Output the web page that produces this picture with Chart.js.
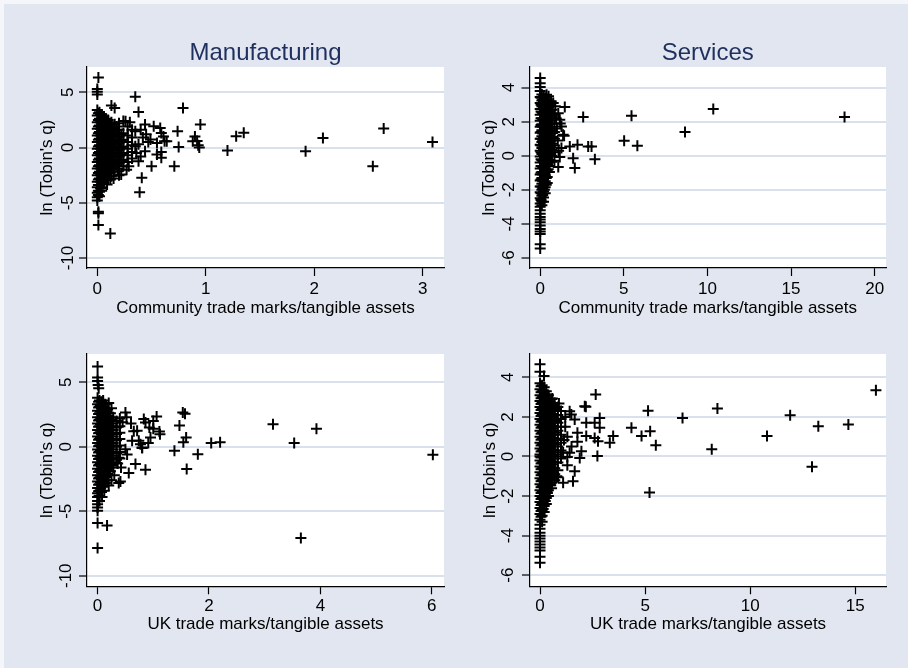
<!DOCTYPE html>
<html>
<head>
<meta charset="utf-8">
<script src="https://cdn.jsdelivr.net/npm/chart.js@4.4.1/dist/chart.umd.min.js"></script>
<style>
  html, body { margin: 0; padding: 0; background: #F4F6FA; width: 908px; height: 668px; overflow: hidden; }
  #frame { position: absolute; left: 4px; top: 4px; width: 904px; height: 664px; background: #E1E6F0; }
  canvas { position: absolute; }
</style>
</head>
<body>
<div id="frame"></div>
<canvas id="p1" width="454" height="334" style="left:0;top:0"></canvas>
<canvas id="p2" width="454" height="334" style="left:454px;top:0"></canvas>
<canvas id="p3" width="454" height="334" style="left:0;top:334px"></canvas>
<canvas id="p4" width="454" height="334" style="left:454px;top:334px"></canvas>
<script>
// ---- data: [trade marks / tangible assets, ln(Tobin's q)] per firm ----
const mfgCommunity = [
  [0.01,6.35],[0,5.3],[0,5.05],[0,4.8],
  [0,3.4],[0,2.9],[0,2.3],[0,1.7],[0,1.1],[0,0.5],[0,-0.1],[0,-0.7],[0,-1.3],[0,-1.9],[0,-2.5],[0,-3.1],[0,-3.6],[0,-4.1],[0,-4.5],[0,-4.8],
  [0.01,-5.8],[0.01,-5.95],[0.01,-7.0],
  [0.01,3.1],[0.01,2.5],[0.01,1.9],[0.01,1.3],[0.01,0.7],[0.01,0.1],[0.01,-0.5],[0.01,-1.1],[0.01,-1.7],[0.01,-2.3],[0.01,-2.9],[0.01,-3.4],[0.01,-3.9],[0.01,-4.3],
  [0.02,3.2],[0.02,2.6],[0.02,2.0],[0.02,1.4],[0.02,0.8],[0.02,0.2],[0.02,-0.4],[0.02,-1.0],[0.02,-1.6],[0.02,-2.2],[0.02,-2.8],[0.02,-3.4],[0.02,-4.0],[0.02,-4.4],
  [0.03,3.0],[0.03,2.3],[0.03,1.7],[0.03,1.1],[0.03,0.5],[0.03,-0.1],[0.03,-0.7],[0.03,-1.3],[0.03,-1.9],[0.03,-2.5],[0.03,-3.1],[0.03,-3.7],
  [0.04,3.0],[0.04,2.4],[0.04,1.8],[0.04,1.2],[0.04,0.6],[0.04,0],[0.04,-0.6],[0.04,-1.2],[0.04,-1.8],[0.04,-2.4],[0.04,-3.0],[0.04,-3.6],[0.04,-3.9],
  [0.05,2.7],[0.05,2.1],[0.05,1.5],[0.05,0.9],[0.05,0.3],[0.05,-0.3],[0.05,-0.9],[0.05,-1.5],[0.05,-2.1],[0.05,-2.7],[0.05,-3.3],
  [0.06,2.8],[0.06,2.2],[0.06,1.6],[0.06,1.0],[0.06,0.4],[0.06,-0.2],[0.06,-0.8],[0.06,-1.4],[0.06,-2.0],[0.06,-2.6],[0.06,-3.1],
  [0.07,2.5],[0.07,1.9],[0.07,1.3],[0.07,0.7],[0.07,0.1],[0.07,-0.5],[0.07,-1.1],[0.07,-1.7],[0.07,-2.3],[0.07,-2.9],
  [0.08,2.6],[0.08,2.0],[0.08,1.4],[0.08,0.8],[0.08,0.2],[0.08,-0.4],[0.08,-1.0],[0.08,-1.6],[0.08,-2.2],[0.08,-2.8],
  [0.09,2.3],[0.09,1.7],[0.09,1.1],[0.09,0.5],[0.09,-0.1],[0.09,-0.7],[0.09,-1.3],[0.09,-1.9],[0.09,-2.5],
  [0.1,2.5],[0.1,1.9],[0.1,1.3],[0.1,0.7],[0.1,0.1],[0.1,-0.5],[0.1,-1.1],[0.1,-1.7],[0.1,-2.3],[0.1,-2.9],
  [0.115,2.0],[0.115,1.4],[0.115,0.8],[0.115,0.2],[0.115,-0.4],[0.115,-1.0],[0.115,-1.6],[0.115,-2.2],
  [0.13,2.3],[0.13,1.7],[0.13,1.1],[0.13,0.5],[0.13,-0.1],[0.13,-0.7],[0.13,-1.3],[0.13,-1.9],[0.13,-2.6],
  [0.145,1.8],[0.145,1.2],[0.145,0.6],[0.145,0],[0.145,-0.6],[0.145,-1.2],[0.145,-1.8],
  [0.16,2.1],[0.16,1.5],[0.16,0.9],[0.16,0.3],[0.16,-0.3],[0.16,-0.9],[0.16,-1.5],[0.16,-2.2],
  [0.18,1.9],[0.18,1.3],[0.18,0.7],[0.18,0.1],[0.18,-0.5],[0.18,-1.1],[0.18,-1.6],
  [0.2,2.2],[0.2,1.6],[0.2,1.0],[0.2,0.4],[0.2,-0.2],[0.2,-0.8],[0.2,-1.4],[0.2,-1.9],
  [0.22,1.2],[0.22,0.6],[0.22,0],[0.22,-0.6],[0.22,-1.2],
  [0.24,2.4],[0.24,1.3],[0.24,0.7],[0.24,0.1],[0.24,-0.5],[0.24,-1.1],[0.24,-1.7],
  [0.28,1.9],[0.28,1.1],[0.28,0.5],[0.28,-0.1],[0.28,-0.7],[0.28,-1.3],
  [0.32,1.6],[0.32,0.9],[0.32,0.2],[0.32,-0.4],[0.32,-1.0],
  [0.13,3.8],[0.16,3.58],[0.38,3.22],[0.35,4.6],[0.22,-2.44],[0.26,2.38],[0.35,1.47],[0.44,2.08],
  [0.52,1.93],[0.59,1.32],[0.62,0.57],[0.55,0.42],[0.49,0.72],[0.44,-0.33],[0.55,-0.63],[0.59,-0.93],
  [0.38,-1.24],[0.29,-1.69],[0.19,-2.14],[0.12,-2.89],[0.09,-3.34],[0.35,0.12],[0.58,1.78],[0.61,1.0],
  [0.64,0.57],[0.59,-0.4],[0.5,-1.69],[0.41,-2.74],[0.39,-4.04],[0.12,-7.77],[0.4,1.6],[0.45,1.2],
  [0.42,0.9],[0.38,0.3],[0.47,0.5],[0.36,-0.5],[0.4,-0.8],[0.3,2.3],[0.27,-2.0],[0.2,-2.5],[0.15,-2.8],
  [0.74,1.47],[0.75,0.06],[0.71,-1.69],[0.79,3.58],[0.95,2.08],[0.9,1.0],[0.92,0.6],[0.93,0.2],
  [0.94,0.0],[0.88,0.57],[1.2,-0.27],[1.28,1.02],[1.35,1.33],[1.92,-0.33],[2.08,0.87],[2.54,-1.69],
  [2.64,1.72],[3.09,0.51]
];

const svcCommunity = [
  [0,4.56],[0,4.26],[0,4.03],[0,3.8],[0,3.45],[0,3.1],[0,2.75],[0,2.4],[0,2.05],[0,1.7],[0,1.35],[0,1.0],
  [0,0.65],[0,0.3],[0,-0.05],[0,-0.4],[0,-0.75],[0,-1.1],[0,-1.45],[0,-1.8],[0,-2.15],[0,-2.5],[0,-2.8],
  [0,-3.0],[0,-3.2],[0,-3.4],[0,-3.6],[0,-3.75],[0,-3.9],[0,-4.1],[0,-4.3],[0,-4.45],[0,-4.6],[0,-5.2],[0,-5.45],
  [0.05,3.4],[0.05,3.0],[0.05,2.6],[0.05,2.2],[0.05,1.8],[0.05,1.4],[0.05,1.0],[0.05,0.6],[0.05,0.2],
  [0.05,-0.2],[0.05,-0.6],[0.05,-1.0],[0.05,-1.4],[0.05,-1.8],[0.05,-2.2],[0.05,-2.6],
  [0.1,3.6],[0.1,3.25],[0.1,2.9],[0.1,2.55],[0.1,2.2],[0.1,1.85],[0.1,1.5],[0.1,1.15],[0.1,0.8],[0.1,0.45],
  [0.1,0.1],[0.1,-0.25],[0.1,-0.6],[0.1,-0.95],[0.1,-1.3],[0.1,-1.65],[0.1,-2.0],[0.1,-2.35],[0.1,-2.7],[0.1,-2.9],
  [0.15,3.3],[0.15,2.9],[0.15,2.5],[0.15,2.1],[0.15,1.7],[0.15,1.3],[0.15,0.9],[0.15,0.5],[0.15,0.1],
  [0.15,-0.3],[0.15,-0.7],[0.15,-1.1],[0.15,-1.5],[0.15,-1.9],[0.15,-2.3],
  [0.2,3.5],[0.2,3.15],[0.2,2.8],[0.2,2.45],[0.2,2.1],[0.2,1.75],[0.2,1.4],[0.2,1.05],[0.2,0.7],[0.2,0.35],
  [0.2,0],[0.2,-0.35],[0.2,-0.7],[0.2,-1.05],[0.2,-1.4],[0.2,-1.75],[0.2,-2.1],[0.2,-2.45],[0.2,-2.7],
  [0.25,3.2],[0.25,2.8],[0.25,2.4],[0.25,2.0],[0.25,1.6],[0.25,1.2],[0.25,0.8],[0.25,0.4],[0.25,0],
  [0.25,-0.4],[0.25,-0.8],[0.25,-1.2],[0.25,-1.6],[0.25,-2.0],
  [0.3,3.4],[0.3,3.05],[0.3,2.7],[0.3,2.35],[0.3,2.0],[0.3,1.65],[0.3,1.3],[0.3,0.95],[0.3,0.6],[0.3,0.25],
  [0.3,-0.1],[0.3,-0.45],[0.3,-0.8],[0.3,-1.15],[0.3,-1.5],[0.3,-1.85],[0.3,-2.2],
  [0.36,3.1],[0.36,2.7],[0.36,2.3],[0.36,1.9],[0.36,1.5],[0.36,1.1],[0.36,0.7],[0.36,0.3],[0.36,-0.1],
  [0.36,-0.5],[0.36,-0.9],[0.36,-1.3],[0.36,-1.7],
  [0.42,3.3],[0.42,2.95],[0.42,2.6],[0.42,2.25],[0.42,1.9],[0.42,1.55],[0.42,1.2],[0.42,0.85],[0.42,0.5],
  [0.42,0.15],[0.42,-0.2],[0.42,-0.55],[0.42,-0.9],[0.42,-1.25],[0.42,-1.6],
  [0.48,2.8],[0.48,2.4],[0.48,2.0],[0.48,1.6],[0.48,1.2],[0.48,0.8],[0.48,0.4],[0.48,0],[0.48,-0.4],[0.48,-0.8],
  [0.55,3.0],[0.55,2.6],[0.55,2.2],[0.55,1.85],[0.55,1.5],[0.55,1.15],[0.55,0.8],[0.55,0.45],[0.55,0.1],
  [0.55,-0.25],[0.55,-0.6],[0.55,-0.95],
  [0.62,2.5],[0.62,2.1],[0.62,1.7],[0.62,1.3],[0.62,0.9],[0.62,0.5],[0.62,0.1],[0.62,-0.3],
  [0.7,2.7],[0.7,2.3],[0.7,1.9],[0.7,1.5],[0.7,1.1],[0.7,0.7],[0.7,0.35],[0.7,0],[0.7,-0.35],
  [0.85,2.4],[0.85,1.9],[0.85,1.4],[0.85,1.0],[0.85,0.6],[0.85,0.2],[0.85,-0.3],
  [0.38,3.58],[0.78,3.09],[1.47,2.86],[2.57,2.27],[1.08,2.5],[1.17,2.11],[1.27,1.72],[1.37,1.23],
  [1.77,0.55],[2.23,0.65],[2.87,0.55],[3.07,0.55],[3.27,-0.2],[1.97,-0.14],[2.07,-0.72],[1.08,-0.66],
  [1.17,-0.08],[1.27,0.45],[1.43,1.17],[1.0,1.6],[1.05,0.9],[0.95,2.2],[1.1,0.3],[0.5,3.5],[0.65,3.2],
  [0.9,2.9],[1.2,1.9],
  [5.46,2.35],[5.02,0.88],[5.81,0.59],[8.66,1.39],[10.35,2.74],[18.2,2.27]
];

const mfgUK = [
  [0,6.23],[0,5.37],[0,5.1],[0.01,4.8],[0.02,4.55],
  [0,3.8],[0,3.3],[0,2.8],[0,2.3],[0,1.8],[0,1.3],[0,0.8],[0,0.3],[0,-0.2],[0,-0.7],[0,-1.2],[0,-1.7],
  [0,-2.2],[0,-2.7],[0,-3.2],[0,-3.6],[0,-3.9],[0,-4.2],[0,-4.45],[0,-4.7],[0,-4.95],[0,-5.9],[0,-7.85],
  [0.018,3.5],[0.018,3.05],[0.018,2.55],[0.018,2.05],[0.018,1.55],[0.018,1.05],[0.018,0.55],[0.018,0.05],
  [0.018,-0.45],[0.018,-0.95],[0.018,-1.45],[0.018,-1.95],[0.018,-2.45],[0.018,-2.95],[0.018,-3.45],[0.018,-3.85],
  [0.035,3.6],[0.035,3.1],[0.035,2.6],[0.035,2.1],[0.035,1.6],[0.035,1.1],[0.035,0.6],[0.035,0.1],[0.035,-0.4],
  [0.035,-0.9],[0.035,-1.4],[0.035,-1.9],[0.035,-2.4],[0.035,-2.9],[0.035,-3.4],[0.035,-3.8],[0.035,-4.2],
  [0.052,3.25],[0.052,2.75],[0.052,2.25],[0.052,1.75],[0.052,1.25],[0.052,0.75],[0.052,0.25],[0.052,-0.25],
  [0.052,-0.75],[0.052,-1.25],[0.052,-1.75],[0.052,-2.25],[0.052,-2.75],[0.052,-3.25],
  [0.07,3.5],[0.07,3.0],[0.07,2.5],[0.07,2.0],[0.07,1.5],[0.07,1.0],[0.07,0.5],[0.07,0],[0.07,-0.5],
  [0.07,-1.0],[0.07,-1.5],[0.07,-2.0],[0.07,-2.5],[0.07,-3.0],[0.07,-3.5],
  [0.085,3.15],[0.085,2.65],[0.085,2.15],[0.085,1.65],[0.085,1.15],[0.085,0.65],[0.085,0.15],[0.085,-0.35],
  [0.085,-0.85],[0.085,-1.35],[0.085,-1.85],[0.085,-2.35],[0.085,-2.85],
  [0.1,3.4],[0.1,2.9],[0.1,2.4],[0.1,1.9],[0.1,1.4],[0.1,0.9],[0.1,0.4],[0.1,-0.1],[0.1,-0.6],[0.1,-1.1],
  [0.1,-1.6],[0.1,-2.1],[0.1,-2.6],[0.1,-3.1],
  [0.12,3.05],[0.12,2.55],[0.12,2.05],[0.12,1.55],[0.12,1.05],[0.12,0.55],[0.12,0.05],[0.12,-0.45],
  [0.12,-0.95],[0.12,-1.45],[0.12,-1.95],[0.12,-2.45],
  [0.14,3.3],[0.14,2.8],[0.14,2.3],[0.14,1.8],[0.14,1.3],[0.14,0.8],[0.14,0.3],[0.14,-0.2],[0.14,-0.7],
  [0.14,-1.2],[0.14,-1.7],[0.14,-2.2],[0.14,-2.8],
  [0.16,2.65],[0.16,2.15],[0.16,1.65],[0.16,1.15],[0.16,0.65],[0.16,0.15],[0.16,-0.35],[0.16,-0.85],
  [0.16,-1.35],[0.16,-1.85],[0.16,-2.35],
  [0.18,2.9],[0.18,2.4],[0.18,1.9],[0.18,1.4],[0.18,0.9],[0.18,0.4],[0.18,-0.1],[0.18,-0.6],[0.18,-1.1],
  [0.18,-1.6],[0.18,-2.1],[0.18,-2.6],
  [0.205,2.35],[0.205,1.85],[0.205,1.35],[0.205,0.85],[0.205,0.35],[0.205,-0.15],[0.205,-0.65],[0.205,-1.15],[0.205,-1.65],
  [0.23,2.6],[0.23,2.1],[0.23,1.6],[0.23,1.1],[0.23,0.6],[0.23,0.1],[0.23,-0.4],[0.23,-0.9],[0.23,-1.4],[0.23,-1.9],
  [0.255,2.05],[0.255,1.55],[0.255,1.05],[0.255,0.55],[0.255,0.05],[0.255,-0.45],[0.255,-0.95],[0.255,-1.45],
  [0.28,2.3],[0.28,1.8],[0.28,1.3],[0.28,0.8],[0.28,0.3],[0.28,-0.2],[0.28,-0.7],[0.28,-1.2],[0.28,-1.6],
  [0.34,2.0],[0.34,1.5],[0.34,1.0],[0.34,0.5],[0.34,0],[0.34,-0.5],[0.34,-1.0],
  [0.4,2.2],[0.4,1.6],[0.4,1.1],[0.4,0.6],[0.4,0.1],[0.4,-0.4],[0.4,-0.9],
  [0.17,-6.1],[0.1,3.6],[0.2,3.4],[0.25,3.0],[0.5,2.66],[0.52,2.3],[0.83,2.15],[0.86,1.88],[1.0,2.0],
  [0.71,1.24],[0.74,0.47],[0.77,0.2],[0.8,-0.05],[0.95,0.72],[0.93,1.5],[0.5,-0.18],[0.62,0.48],
  [0.53,-0.6],[0.38,-0.85],[0.36,-1.3],[0.42,-1.6],[0.86,-1.78],[0.68,-1.34],[0.56,-2.04],[0.38,-2.81],
  [0.41,-2.69],[0.91,0.29],[0.8,-0.1],[1.06,2.35],[1.11,1.19],[1.12,0.98],[1.0,1.4],[0.6,1.8],[0.65,1.2],
  [0.45,1.9],[0.3,-2.2],[0.25,-2.6],[0.2,-3.0],[0.12,-3.4],[0.08,-3.9],
  [1.38,-0.31],[1.47,1.65],[1.53,2.66],[1.57,2.56],[1.59,0.72],[1.54,0.36],[1.6,-1.73],[1.8,-0.57],
  [2.04,0.29],[2.2,0.36],[3.15,1.76],[3.93,1.4],[3.53,0.29],[3.65,-7.08],[6.02,-0.62]
];

const svcUK = [
  [0,4.66],[0,4.28],[0.19,4.07],
  [0,3.7],[0,3.4],[0,3.1],[0,2.8],[0,2.5],[0,2.2],[0,1.9],[0,1.6],[0,1.3],[0,1.0],[0,0.7],[0,0.4],[0,0.1],
  [0,-0.2],[0,-0.5],[0,-0.8],[0,-1.1],[0,-1.4],[0,-1.7],[0,-2.0],[0,-2.3],[0,-2.6],[0,-2.9],[0,-3.2],
  [0,-3.45],[0,-3.65],[0,-3.85],[0,-4.0],[0,-4.15],[0,-4.3],[0,-4.45],[0,-4.6],[0,-4.75],[0,-5.07],[0,-5.37],
  [0.05,3.55],[0.05,3.25],[0.05,2.95],[0.05,2.65],[0.05,2.35],[0.05,2.05],[0.05,1.75],[0.05,1.45],[0.05,1.15],
  [0.05,0.85],[0.05,0.55],[0.05,0.25],[0.05,-0.05],[0.05,-0.35],[0.05,-0.65],[0.05,-0.95],[0.05,-1.25],
  [0.05,-1.55],[0.05,-1.85],[0.05,-2.15],[0.05,-2.45],[0.05,-2.75],[0.05,-3.05],
  [0.1,3.6],[0.1,3.3],[0.1,3.0],[0.1,2.7],[0.1,2.4],[0.1,2.1],[0.1,1.8],[0.1,1.5],[0.1,1.2],[0.1,0.9],
  [0.1,0.6],[0.1,0.3],[0,0],[0.1,0],[0.1,-0.3],[0.1,-0.6],[0.1,-0.9],[0.1,-1.2],[0.1,-1.5],[0.1,-1.8],[0.1,-2.1],
  [0.1,-2.4],[0.1,-2.7],[0.1,-3.0],[0.1,-3.3],
  [0.15,3.35],[0.15,3.05],[0.15,2.75],[0.15,2.45],[0.15,2.15],[0.15,1.85],[0.15,1.55],[0.15,1.25],[0.15,0.95],
  [0.15,0.65],[0.15,0.35],[0.15,0.05],[0.15,-0.25],[0.15,-0.55],[0.15,-0.85],[0.15,-1.15],[0.15,-1.45],
  [0.15,-1.75],[0.15,-2.05],[0.15,-2.35],[0.15,-2.65],
  [0.2,3.5],[0.2,3.2],[0.2,2.9],[0.2,2.6],[0.2,2.3],[0.2,2.0],[0.2,1.7],[0.2,1.4],[0.2,1.1],[0.2,0.8],
  [0.2,0.5],[0.2,0.2],[0.2,-0.1],[0.2,-0.4],[0.2,-0.7],[0.2,-1.0],[0.2,-1.3],[0.2,-1.6],[0.2,-1.9],
  [0.2,-2.2],[0.2,-2.5],[0.2,-2.8],
  [0.25,3.15],[0.25,2.85],[0.25,2.55],[0.25,2.25],[0.25,1.95],[0.25,1.65],[0.25,1.35],[0.25,1.05],[0.25,0.75],
  [0.25,0.45],[0.25,0.15],[0.25,-0.15],[0.25,-0.45],[0.25,-0.75],[0.25,-1.05],[0.25,-1.35],[0.25,-1.65],[0.25,-1.95],[0.25,-2.25],
  [0.3,3.3],[0.3,3.0],[0.3,2.7],[0.3,2.4],[0.3,2.1],[0.3,1.8],[0.3,1.5],[0.3,1.2],[0.3,0.9],[0.3,0.6],
  [0.3,0.3],[0.3,0],[0.3,-0.3],[0.3,-0.6],[0.3,-0.9],[0.3,-1.2],[0.3,-1.5],[0.3,-1.8],[0.3,-2.1],[0.3,-2.4],
  [0.35,2.95],[0.35,2.65],[0.35,2.35],[0.35,2.05],[0.35,1.75],[0.35,1.45],[0.35,1.15],[0.35,0.85],[0.35,0.55],
  [0.35,0.25],[0.35,-0.05],[0.35,-0.35],[0.35,-0.65],[0.35,-0.95],[0.35,-1.25],[0.35,-1.55],[0.35,-1.85],
  [0.4,3.1],[0.4,2.8],[0.4,2.5],[0.4,2.2],[0.4,1.9],[0.4,1.6],[0.4,1.3],[0.4,1.0],[0.4,0.7],[0.4,0.4],
  [0.4,0.1],[0.4,-0.2],[0.4,-0.5],[0.4,-0.8],[0.4,-1.1],[0.4,-1.4],[0.4,-1.7],[0.4,-2.0],
  [0.47,2.75],[0.47,2.45],[0.47,2.15],[0.47,1.85],[0.47,1.55],[0.47,1.25],[0.47,0.95],[0.47,0.65],[0.47,0.35],
  [0.47,0.05],[0.47,-0.25],[0.47,-0.55],[0.47,-0.85],[0.47,-1.15],[0.47,-1.45],
  [0.55,2.9],[0.55,2.6],[0.55,2.3],[0.55,2.0],[0.55,1.7],[0.55,1.4],[0.55,1.1],[0.55,0.8],[0.55,0.5],
  [0.55,0.2],[0.55,-0.1],[0.55,-0.4],[0.55,-0.7],[0.55,-1.0],[0.55,-1.3],[0.55,-1.6],
  [0.62,2.45],[0.62,2.15],[0.62,1.85],[0.62,1.55],[0.62,1.25],[0.62,0.95],[0.62,0.65],[0.62,0.35],[0.62,0.05],
  [0.62,-0.25],[0.62,-0.55],[0.62,-0.85],
  [0.7,2.7],[0.7,2.4],[0.7,2.1],[0.7,1.8],[0.7,1.5],[0.7,1.2],[0.7,0.9],[0.7,0.6],[0.7,0.3],[0.7,0],
  [0.7,-0.3],[0.7,-0.6],[0.7,-0.9],[0.7,-1.2],
  [0.85,2.5],[0.85,2.1],[0.85,1.7],[0.85,1.3],[0.85,0.9],[0.85,0.5],[0.85,0.1],[0.85,-0.3],[0.85,-0.7],
  [1.0,2.3],[1.0,1.9],[1.0,1.5],[1.0,1.1],[1.0,0.7],[1.0,0.3],[1.0,-0.1],
  [2.65,3.13],[2.18,2.51],[2.13,2.54],[1.41,2.29],[1.49,2.12],[1.65,1.87],[2.2,1.7],[2.6,1.7],[2.84,1.95],
  [2.84,1.45],[1.78,1.2],[2.2,1.03],[2.6,0.94],[2.76,0.77],[3.32,0.69],[3.48,1.03],[2.73,0.02],[1.97,0.27],
  [1.89,-0.07],[1.41,0.19],[1.65,-0.74],[1.57,-1.25],[1.1,-1.33],[0.86,-1.05],[0.54,-1.33],[0.51,-1.45],
  [0.9,2.68],[0.59,2.93],[1.3,-0.02],[1.3,-0.44],[1.78,0.74],[1.14,0.83],[1.2,1.5],[1.3,1.0],[1.5,0.5],
  [1.1,0.2],[1.2,2.0],[0.8,-1.0],
  [4.35,1.45],[4.83,1.03],[5.14,2.31],[5.24,1.28],[5.51,0.57],[5.21,-1.82],[6.78,1.95],[8.44,2.42],
  [8.17,0.37],[10.8,1.04],[11.9,2.09],[12.94,-0.52],[13.24,1.53],[14.67,1.62],[15.98,3.35]
];

// ---- tick labels ----
const mfgCommunityXTicks = [0, 1, 2, 3];
const svcCommunityXTicks = [0, 5, 10, 15, 20];
const mfgUKXTicks = [0, 2, 4, 6];
const svcUKXTicks = [0, 5, 10, 15];
const mfgYTicks = [-10, -5, 0, 5];
const svcYTicks = [-6, -4, -2, 0, 2, 4];

const sectorTitles = ['Manufacturing', 'Services'];
const yTitle = "ln (Tobin's q)";
const xTitleCommunity = 'Community trade marks/tangible assets';
const xTitleUK = 'UK trade marks/tangible assets';

// ---- styling / layout ----
const FONT = '"Liberation Sans", Arial, Helvetica, sans-serif';
const W = 454, H = 334;
const Y_AXIS_W = 50, X_AXIS_H = 55, TICK_LEN = 8;
const GRID = '#D9E1EC';
const TITLE_COLOR = '#1F2F5E';

// white plot region behind the marks
const plotBg = {
  id: 'plotBg',
  beforeDraw(chart) {
    const { ctx, chartArea: a } = chart;
    ctx.save();
    ctx.fillStyle = '#FFFFFF';
    ctx.fillRect(a.left, a.top, a.right - a.left, a.bottom - a.top);
    ctx.restore();
  }
};

// column heading centred over the plot region
const panelTitle = {
  id: 'panelTitle',
  afterDraw(chart, args, opts) {
    if (!opts.text) return;
    const { ctx, chartArea: a } = chart;
    ctx.save();
    ctx.font = '24px ' + FONT;
    ctx.fillStyle = TITLE_COLOR;
    ctx.textAlign = 'center';
    ctx.textBaseline = 'alphabetic';
    ctx.fillText(opts.text, (a.left + a.right) / 2, a.top - opts.gap);
    ctx.restore();
  }
};

// padding that puts the centre of the rotated y labels `gap` px left of the axis
function yLabelPadding(labels, gap) {
  const c = document.createElement('canvas').getContext('2d');
  c.font = '17px ' + FONT;
  const widest = Math.max(...labels.map(s => c.measureText(s).width));
  return gap - TICK_LEN - widest / 2;
}

function buildPanel(id, cfg) {
  const a = cfg.area;
  new Chart(document.getElementById(id), {
    type: 'scatter',
    data: {
      datasets: [{
        data: cfg.points.map(p => ({ x: p[0], y: p[1] })),
        pointStyle: 'cross',
        pointRadius: 5.5,
        pointHoverRadius: 5.5,
        borderColor: '#000',
        backgroundColor: '#000',
        borderWidth: 2,
        pointHoverBorderWidth: 2
      }]
    },
    options: {
      responsive: false,
      animation: false,
      events: [],
      layout: {
        padding: {
          left: a.left - Y_AXIS_W,
          top: a.top,
          right: W - a.right,
          bottom: H - a.bottom - X_AXIS_H
        }
      },
      plugins: {
        legend: { display: false },
        tooltip: { enabled: false },
        panelTitle: { text: cfg.title, gap: 7 }
      },
      scales: {
        x: {
          type: 'linear',
          position: 'bottom',
          min: cfg.xMin,
          max: cfg.xMax,
          afterBuildTicks: s => { s.ticks = cfg.xTicks.map(v => ({ value: v })); },
          afterFit: s => { s.height = X_AXIS_H; },
          grid: { drawOnChartArea: false, drawTicks: true, tickLength: TICK_LEN, tickColor: '#000', tickWidth: 1.2 },
          border: { display: true, color: '#000', width: 1.2 },
          ticks: {
            autoSkip: false, maxRotation: 0, padding: cfg.xTickPad, color: '#000',
            font: { family: FONT, size: 17 },
            callback: v => String(v)
          },
          title: {
            display: true, text: cfg.xTitle, color: '#000',
            font: { family: FONT, size: 17, lineHeight: 1.2 },
            padding: { top: 0, bottom: cfg.xTitlePad }
          }
        },
        y: {
          type: 'linear',
          position: 'left',
          min: cfg.yMin,
          max: cfg.yMax,
          afterBuildTicks: s => { s.ticks = cfg.yTicks.map(v => ({ value: v })); },
          afterFit: s => { s.width = Y_AXIS_W; },
          grid: { color: GRID, lineWidth: 2, drawTicks: true, tickLength: TICK_LEN, tickColor: '#000', tickWidth: 1.2 },
          border: { display: true, color: '#000', width: 1.2 },
          ticks: {
            autoSkip: false, minRotation: 90, maxRotation: 90, crossAlign: 'center',
            padding: yLabelPadding(cfg.yTicks.map(String), cfg.yLabelGap),
            color: '#000', font: { family: FONT, size: 17 },
            callback: v => String(v)
          },
          title: {
            display: true, text: yTitle, color: '#000',
            font: { family: FONT, size: 17, lineHeight: 1.2 },
            padding: { top: 0, bottom: 0 }
          }
        }
      }
    },
    plugins: [plotBg, panelTitle]
  });
}

buildPanel('p1', {
  points: mfgCommunity, title: sectorTitles[0], xTitle: xTitleCommunity,
  xMin: -0.095, xMax: 3.196, xTicks: mfgCommunityXTicks,
  yMin: -10.9, yMax: 7.29, yTicks: mfgYTicks,
  area: { left: 87, top: 67, right: 444, bottom: 268 },
  xTickPad: 2.8, xTitlePad: 4.6, yLabelGap: 19
});
buildPanel('p2', {
  points: svcCommunity, title: sectorTitles[1], xTitle: xTitleCommunity,
  xMin: -0.64, xMax: 20.68, xTicks: svcCommunityXTicks,
  yMin: -6.59, yMax: 5.21, yTicks: svcYTicks,
  area: { left: 75.5, top: 67, right: 432, bottom: 268 },
  xTickPad: 2.8, xTitlePad: 4.6, yLabelGap: 20.5
});
buildPanel('p3', {
  points: mfgUK, title: '', xTitle: xTitleUK,
  xMin: -0.19, xMax: 6.22, xTicks: mfgUKXTicks,
  yMin: -10.82, yMax: 7.2, yTicks: mfgYTicks,
  area: { left: 87, top: 20, right: 444, bottom: 252.3 },
  xTickPad: 2, xTitlePad: 7, yLabelGap: 20.5
});
buildPanel('p4', {
  points: svcUK, title: '', xTitle: xTitleUK,
  xMin: -0.476, xMax: 16.46, xTicks: svcUKXTicks,
  yMin: -6.56, yMax: 5.18, yTicks: svcYTicks,
  area: { left: 76, top: 20, right: 432, bottom: 252.3 },
  xTickPad: 2, xTitlePad: 7, yLabelGap: 21.5
});
</script>
</body>
</html>
